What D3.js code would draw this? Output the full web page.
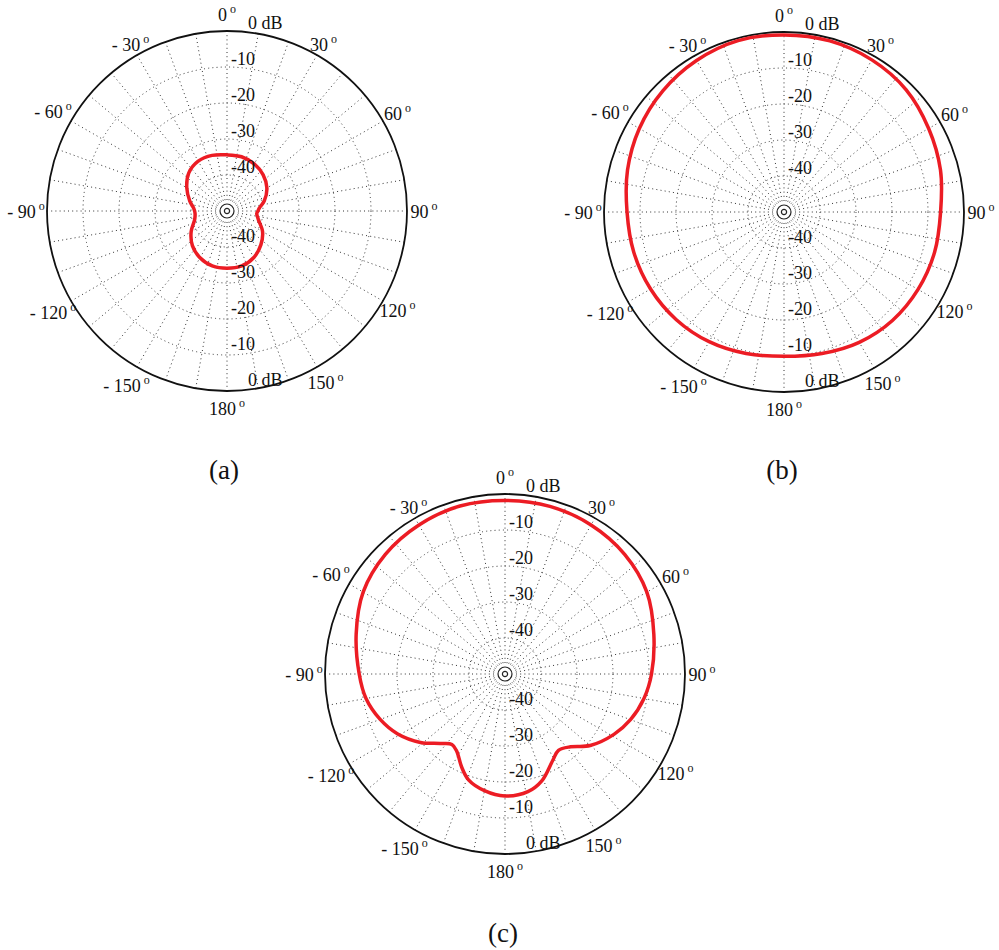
<!DOCTYPE html>
<html>
<head>
<meta charset="utf-8">
<script src="https://cdn.jsdelivr.net/npm/d3@7/dist/d3.min.js"></script>
<style>
  html, body { margin: 0; padding: 0; background: #fff; }
  svg { display: block; }
  text { font-family: "Liberation Serif", "Times New Roman", Times, serif; fill: #111; }
</style>
</head>
<body>
<svg id="chart" width="999" height="950"></svg>
<script>
// ---------------- data ----------------
const angleTicks = [0, 30, 60, 90, 120, 150, 180, -150, -120, -90, -60, -30];
const angleTickLabels = ["0", "30", "60", "90", "120", "150", "180", "- 150", "- 120", "- 90", "- 60", "- 30"];
const dbTicks = [0, -10, -20, -30, -40];
const dbTickLabels = ["0 dB", "-10", "-20", "-30", "-40"];
const captions = ["(a)", "(b)", "(c)"];

// pattern (a): angle (deg, clockwise from top) and gain (dB)
const anglesA = [-180, -165, -150, -135, -120, -105, -95, -90, -85, -75, -60, -45, -30, -15,
                 0, 15, 30, 45, 60, 75, 85, 90, 95, 105, 120, 135, 150, 165];
const gainA   = [-34.1, -34.2, -35.0, -36.4, -38.5, -40.7, -41.1, -41.0, -40.7, -39.3, -37.1, -35.0, -34.0, -34.0,
                 -34.4, -34.4, -34.9, -35.8, -37.2, -39.3, -41.0, -41.4, -41.7, -41.0, -38.6, -36.7, -35.1, -34.2];

// pattern (b)
const anglesB = [-180, -165, -150, -135, -120, -105, -90, -75, -60, -45, -30, -15,
                 0, 15, 30, 45, 60, 75, 90, 105, 120, 135, 150, 165];
const gainB   = [-9.9, -9.3, -8.4, -7.7, -7.2, -6.8, -6.4, -5.0, -3.6, -2.4, -1.4, -0.7,
                 -0.8, -0.8, -1.2, -2.0, -3.6, -5.0, -6.5, -6.7, -7.0, -7.4, -8.2, -9.3];

// pattern (c)
const anglesC = [-180, -170, -161, -155, -148, -143, -137, -129, -119, -110, -100, -90, -75, -60, -45, -30, -15,
                 0, 15, 30, 45, 60, 75, 90, 100, 110, 119, 130, 138, 145, 151, 161, 169];
const gainC   = [-16.1, -17.1, -18.9, -21.5, -24.7, -25.5, -23.6, -19.8, -15.8, -13.1, -10.8, -9.5, -7.2, -4.5, -3.0, -2.2, -1.7,
                 -1.8, -1.8, -2.2, -3.0, -4.5, -7.2, -9.3, -10.8, -12.9, -15.4, -19.1, -22.8, -24.1, -22.6, -18.6, -16.7];

const patterns = [
  { angles: anglesA, gains: gainA },
  { angles: anglesB, gains: gainB },
  { angles: anglesC, gains: gainC }
];

// ---------------- layout ----------------
const panels = [
  { cx: 227, cy: 211, capX: 224, capY: 479 },
  { cx: 784, cy: 212, capX: 782, capY: 479 },
  { cx: 505, cy: 674, capX: 503, capY: 942 }
];
const R = 180;
const rScale = d3.scaleLinear().domain([-50, 0]).range([0, R]);
const toRad = d => d * Math.PI / 180;

const svg = d3.select("#chart");

panels.forEach((p, i) => {
  const g = svg.append("g").attr("transform", `translate(${p.cx},${p.cy})`);

  // dotted rings
  g.selectAll("circle.ring").data(dbTicks.filter(d => d < 0)).enter()
    .append("circle").attr("class", "ring")
    .attr("r", d => rScale(d))
    .attr("fill", "none").attr("stroke", "#333").attr("stroke-width", 1)
    .attr("stroke-dasharray", "1,3.2");

  // dotted spokes every 10 degrees
  const spokes = d3.range(0, 360, 10);
  g.selectAll("line.spoke").data(spokes).enter()
    .append("line").attr("class", "spoke")
    .attr("x1", d => 11 * Math.sin(toRad(d)))
    .attr("y1", d => -11 * Math.cos(toRad(d)))
    .attr("x2", d => R * Math.sin(toRad(d)))
    .attr("y2", d => -R * Math.cos(toRad(d)))
    .attr("stroke", "#333").attr("stroke-width", 1)
    .attr("stroke-dasharray", "1,3.2");

  // center marks
  g.append("circle").attr("r", 7).attr("fill", "none").attr("stroke", "#222").attr("stroke-width", 1.2);
  g.append("circle").attr("r", 2.6).attr("fill", "none").attr("stroke", "#222").attr("stroke-width", 1.2);

  // outer circle
  g.append("circle").attr("r", rScale(0)).attr("fill", "none").attr("stroke", "#111").attr("stroke-width", 1.8);

  // pattern curve
  const pat = patterns[i];
  const pts = pat.angles.map((a, k) => ({ a: a, g: pat.gains[k] }));
  const line = d3.lineRadial()
    .angle(d => toRad(d.a))
    .radius(d => rScale(d.g))
    .curve(d3.curveCatmullRomClosed.alpha(0.5));
  g.append("path").attr("d", line(pts))
    .attr("fill", "none").attr("stroke", "#ec1c24").attr("stroke-width", 3.5)
    .attr("stroke-linejoin", "round");

  // dB labels (top and bottom)
  dbTicks.forEach((d, k) => {
    const r = rScale(d);
    const xoff = d === 0 ? 21 : 4;
    g.append("text").attr("x", xoff).attr("y", -r - 2)
      .attr("font-size", 18).text(dbTickLabels[k]);
    g.append("text").attr("x", xoff).attr("y", r - 5)
      .attr("font-size", 18).text(dbTickLabels[k]);
  });

  // angle labels
  angleTicks.forEach((a, k) => {
    let rr = a < 0 ? 201 : 197;
    if (Math.abs(a) === 30) rr = 193;
    const x = rr * Math.sin(toRad(a));
    const y = -rr * Math.cos(toRad(a));
    const t = g.append("text").attr("x", x).attr("y", y + 7)
      .attr("text-anchor", "middle").attr("font-size", 18);
    t.append("tspan").text(angleTickLabels[k]);
    t.append("tspan").attr("dx", 3).attr("dy", -8).attr("font-size", 12).text("o");
  });

  // caption
  svg.append("text").attr("x", p.capX).attr("y", p.capY)
    .attr("text-anchor", "middle").attr("font-size", 27).text(captions[i]);
});
</script>
</body>
</html>
